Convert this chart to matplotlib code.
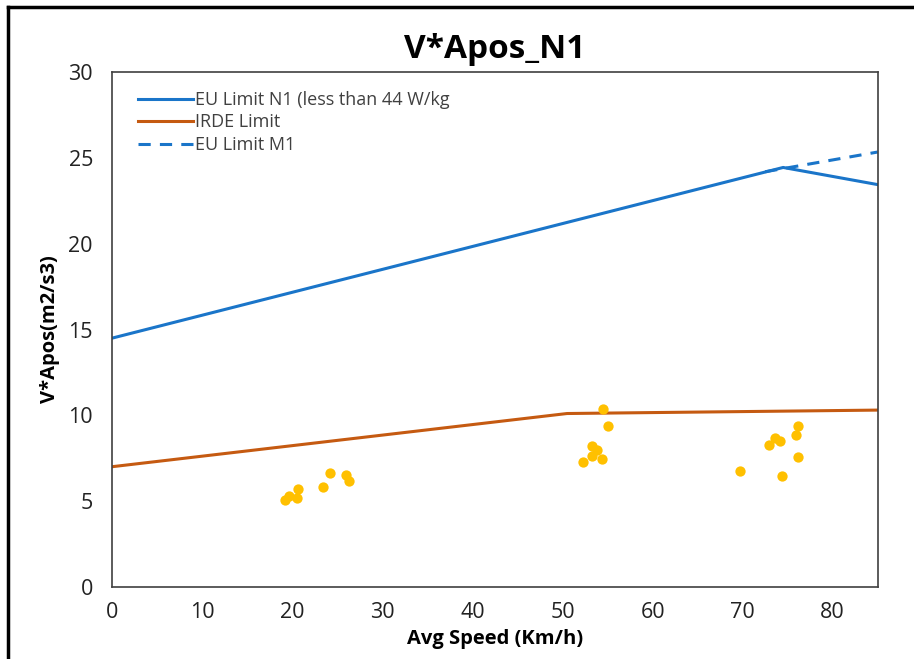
import numpy as np
import matplotlib.pyplot as plt
from matplotlib.lines import Line2D

plt.rcParams['font.family'] = ['Open Sans', 'DejaVu Sans']

# limit curves
eu_n1_x = [0, 74.5, 85]
eu_n1_y = [14.5, 24.45, 23.45]
irde_x = [0, 50.5, 85]
irde_y = [7.0, 10.1, 10.3]
eu_m1_x = [72.5, 85]
eu_m1_y = [24.2, 25.35]

# measured points
speed = [19.2, 19.6, 20.5, 20.6, 23.4, 24.2, 26.0, 26.3,
         54.5, 55.1, 53.3, 53.8, 53.3, 54.4, 52.3,
         76.1, 75.9, 73.6, 74.2, 72.9, 76.2, 69.7, 74.4]
vapos = [5.08, 5.31, 5.2, 5.72, 5.84, 6.65, 6.54, 6.19,
         10.37, 9.4, 8.19, 8.0, 7.65, 7.47, 7.26,
         9.4, 8.87, 8.68, 8.52, 8.29, 7.57, 6.73, 6.44]

fig = plt.figure(figsize=(9.14, 6.59), dpi=100)
ax = fig.add_axes([0.1229, 0.1097, 0.8374, 0.7806])

blue = '#1a75c9'
orange = '#c55a11'
ax.plot(eu_n1_x, eu_n1_y, color=blue, lw=2.2, label='EU Limit N1 (less than 44 W/kg')
ax.plot(irde_x, irde_y, color=orange, lw=2.2, label='IRDE Limit')
ax.plot(eu_m1_x, eu_m1_y, color=blue, lw=2.2, ls=(0, (4, 3)), label='EU Limit M1')
ax.scatter(speed, vapos, s=55, color='#ffc000', zorder=3, linewidths=0)

ax.set_xlim(0, 85)
ax.set_ylim(0, 30)
ax.set_xticks(np.arange(0, 81, 10))
ax.set_yticks(np.arange(0, 31, 5))
ax.tick_params(length=0, labelsize=15.5, pad=11, labelcolor='#222222')
ax.tick_params(axis='y', pad=14)
for s in ax.spines.values():
    s.set_color('#404040')
    s.set_linewidth(1.2)

ax.set_title('V*Apos_N1', fontsize=24, fontweight='bold', pad=10)
ax.set_xlabel('Avg Speed (Km/h)', fontsize=14.5, fontweight='bold', labelpad=4)
ax.set_ylabel('V*Apos(m2/s3)', fontsize=14.5, fontweight='bold', labelpad=6)

leg = ax.legend(loc='upper left', frameon=False, fontsize=13, handlelength=3.0,
                handletextpad=0.15, labelspacing=0.25, borderaxespad=0.2,
                bbox_to_anchor=(0.02, 0.985))
for t in leg.get_texts():
    t.set_color('#404040')

# screenshot frame on left and top
fig.add_artist(Line2D([0.009, 0.009], [0, 0.99], color='black', lw=2.5))
fig.add_artist(Line2D([0.009, 1.0], [0.99, 0.99], color='black', lw=2.5))

fig.savefig('out.png', dpi=100)
